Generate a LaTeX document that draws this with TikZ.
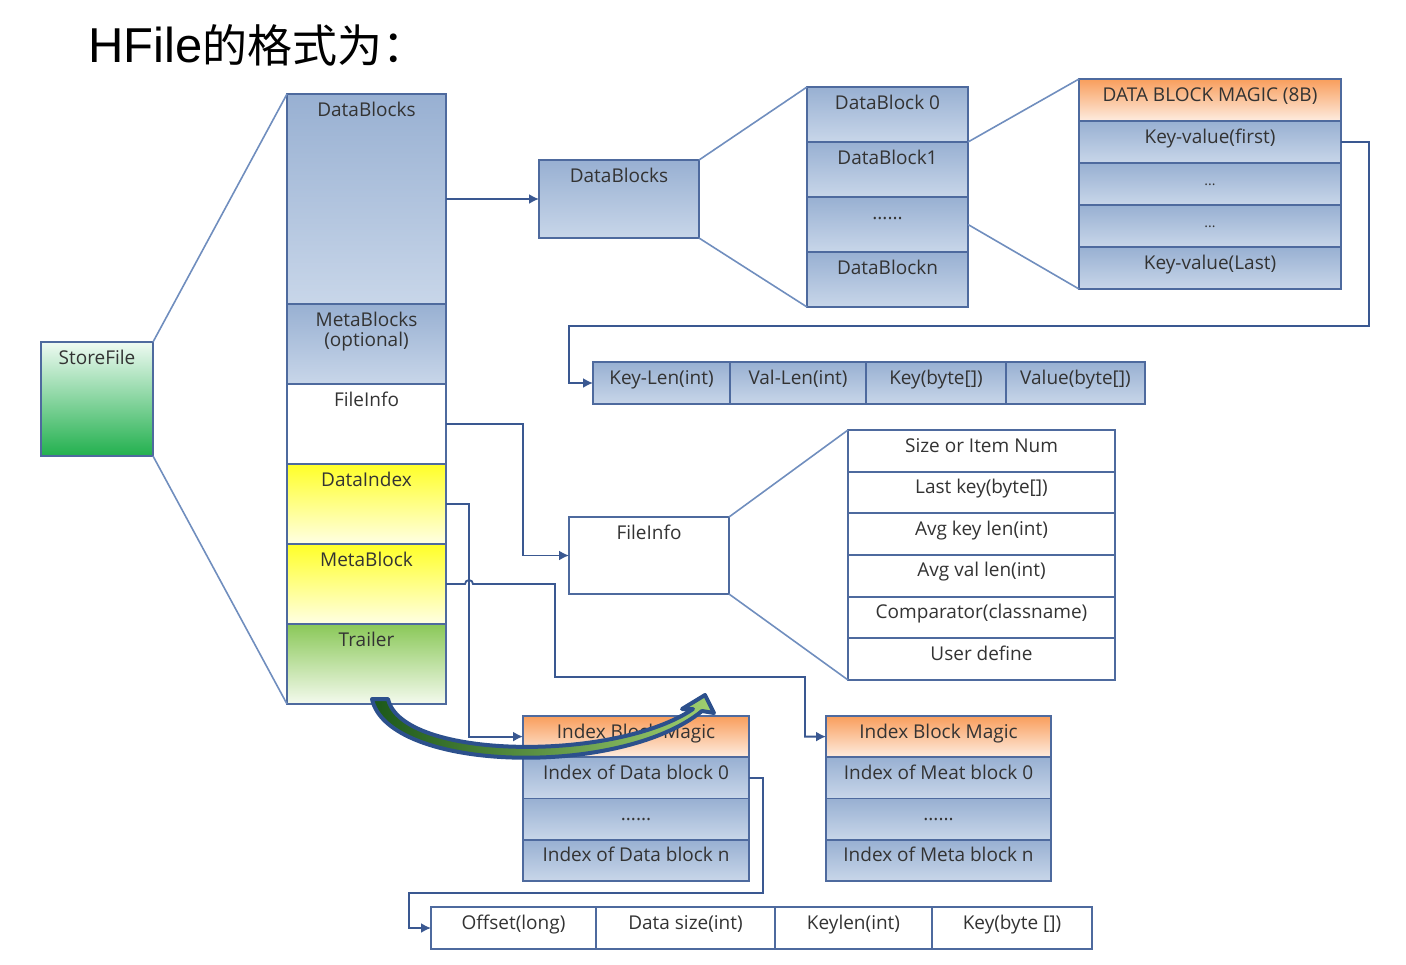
\documentclass[tikz,border=0pt]{standalone}
\usepackage{fontspec}
\setmainfont{Open Sans}
\newfontfamily\titlefont{Liberation Sans}
\newfontfamily\cjk{Noto Sans CJK SC}
\usetikzlibrary{arrows.meta,calc}

\definecolor{hfedge}{RGB}{78,106,158}
\definecolor{hfline}{RGB}{58,88,145}
\definecolor{hffan}{RGB}{112,142,190}
\definecolor{hfbluetop}{RGB}{152,176,210}
\definecolor{hfbluebot}{RGB}{200,214,233}
\definecolor{hforangetop}{RGB}{249,158,92}
\definecolor{hforangebot}{RGB}{253,236,224}
\definecolor{hfyeltop}{RGB}{255,255,40}
\definecolor{hfyelbot}{RGB}{255,255,228}
\definecolor{hfgreentop}{RGB}{138,200,88}
\definecolor{hfgreenbot}{RGB}{244,250,238}
\definecolor{sftop}{RGB}{238,250,242}
\definecolor{sfbot}{RGB}{34,176,78}
\definecolor{arrowedge}{RGB}{44,80,140}
\definecolor{arrowdark}{RGB}{28,88,26}
\definecolor{arrowlight}{RGB}{160,208,112}

\tikzset{
	cell/.style={draw=hfedge, line width=0.9pt, inner sep=0pt, outer sep=0pt, anchor=north west, text height=11pt, text=black!80, font=\fontsize{9.5}{11}\selectfont},
	sz/.style 2 args={minimum width=#1pt, text depth=#2pt},
	bluecell/.style={cell, top color=hfbluetop, bottom color=hfbluebot},
	orangecell/.style={cell, top color=hforangetop, bottom color=hforangebot},
	yellowcell/.style={cell, top color=hfyeltop, bottom color=hfyelbot},
	greencell/.style={cell, top color=hfgreentop, bottom color=hfgreenbot},
	whitecell/.style={cell, fill=white},
	conn/.style={draw=hfline, line width=0.9pt, -{Latex[length=5pt,width=5pt]}},
	fan/.style={draw=hffan, line width=0.8pt}
}

\begin{document}
\begin{tikzpicture}[x=0.5pt,y=-0.5pt]
	\useasboundingbox (0,0) rectangle (1406,964);
	\node[anchor=base west, inner sep=0pt] (title) at (88,62) {\titlefont\fontsize{24.5}{28}\selectfont HFile\cjk\fontsize{22.5}{28}\selectfont 的格式为：};

	\node[cell, top color=sftop, bottom color=sfbot, sz={56}{46}] (sf) at (41,342) {StoreFile};

	\node[bluecell, sz={79.5}{94}] (lDB) at (287,94) {DataBlocks};
	\node[bluecell, sz={79.5}{29}] (lMB) at (lDB.south west) {\begin{tabular}[t]{@{}c@{}}MetaBlocks\\[-1pt](optional)\end{tabular}};
	\node[whitecell, sz={79.5}{29}] (lFI) at (lMB.south west) {FileInfo};
	\node[yellowcell, sz={79.5}{29}] (lDI) at (lFI.south west) {DataIndex};
	\node[yellowcell, sz={79.5}{29}] (lMK) at (lDI.south west) {MetaBlock};
	\node[greencell, sz={79.5}{29}] (lTR) at (lMK.south west) {Trailer};

	\node[bluecell, sz={80}{28}] (db2) at (539,160) {DataBlocks};

	\node[bluecell, sz={80.5}{16.5}] (c0) at (807,87) {DataBlock 0};
	\node[bluecell, sz={80.5}{16.5}] (c1) at (c0.south west) {DataBlock1};
	\node[bluecell, sz={80.5}{16.5}] (c2) at (c1.south west) {......};
	\node[bluecell, sz={80.5}{16.5}] (cn) at (c2.south west) {DataBlockn};

	\node[orangecell, sz={131}{10}] (m0) at (1079,79) {DATA BLOCK MAGIC (8B)};
	\node[bluecell, sz={131}{10}] (m1) at (m0.south west) {Key-value(first)};
	\node[bluecell, sz={131}{10}] (m2) at (m1.south west) {\scriptsize ...};
	\node[bluecell, sz={131}{10}] (m3) at (m2.south west) {\scriptsize ...};
	\node[bluecell, sz={131}{10}] (m4) at (m3.south west) {Key-value(Last)};

	\node[bluecell, sz={68.5}{10}] (kl) at (593,362) {Key-Len(int)};
	\node[bluecell, sz={68}{10}] (vl) at (kl.north east) {Val-Len(int)};
	\node[bluecell, sz={70}{10}] (ky) at (vl.north east) {Key(byte[])};
	\node[bluecell, sz={69.5}{10}] (vb) at (ky.north east) {Value(byte[])};

	\node[whitecell, sz={80}{27.5}] (fi2) at (569,517) {FileInfo};

	\node[whitecell, sz={133.5}{9.83}] (f0) at (848,430) {Size or Item Num};
	\node[whitecell, sz={133.5}{9.83}] (f1) at (f0.south west) {Last key(byte[])};
	\node[whitecell, sz={133.5}{9.83}] (f2) at (f1.south west) {Avg key len(int)};
	\node[whitecell, sz={133.5}{9.83}] (f3) at (f2.south west) {Avg val len(int)};
	\node[whitecell, sz={133.5}{9.83}] (f4) at (f3.south west) {Comparator(classname)};
	\node[whitecell, sz={133.5}{9.83}] (f5) at (f4.south west) {User define};

	\node[orangecell, sz={113}{9.6}] (ib0) at (523,716) {Index Block Magic};
	\node[bluecell, sz={113}{9.6}] (ib1) at (ib0.south west) {Index of Data block 0};
	\node[bluecell, sz={113}{9.6}] (ib2) at (ib1.south west) {......};
	\node[bluecell, sz={113}{9.6}] (ib3) at (ib2.south west) {Index of Data block n};

	\node[orangecell, sz={112.5}{9.6}] (jb0) at (826,716) {Index Block Magic};
	\node[bluecell, sz={112.5}{9.6}] (jb1) at (jb0.south west) {Index of Meat block 0};
	\node[bluecell, sz={112.5}{9.6}] (jb2) at (jb1.south west) {......};
	\node[bluecell, sz={112.5}{9.6}] (jb3) at (jb2.south west) {Index of Meta block n};

	\node[whitecell, sz={82.5}{10}] (of) at (431,907) {Offset(long)};
	\node[whitecell, sz={89.5}{10}] (ds) at (of.north east) {Data size(int)};
	\node[whitecell, sz={78.5}{10}] (kn) at (ds.north east) {Keylen(int)};
	\node[whitecell, sz={80}{10}] (kb) at (kn.north east) {Key(byte [])};

	\draw[fan] (sf.north east) -- (lDB.north west);
	\draw[fan] (sf.south east) -- (lTR.south west);
	\draw[conn] (lDB.east) -- (db2.west);
	\draw[fan] (db2.north east) -- (c0.north west);
	\draw[fan] (db2.south east) -- (cn.south west);
	\draw[fan] (c1.north east) -- (m0.north west);
	\draw[fan] (c2.east) -- (m4.south west);
	\draw[fan] (fi2.north east) -- (f0.north west);
	\draw[fan] (fi2.south east) -- (f5.south west);

	\coordinate (kvturn) at (1369,326);
	\coordinate (kvdrop) at (569,326);
	\draw[conn] (m1.east) -| (kvturn) -- (kvdrop) |- (kl.west);
	\draw[conn] (lFI.east) -| ($(fi2.west)+(-46,0)$) -- (fi2.west);
	\draw[conn] (lDI.east) -- ++(23,0) |- (ib0.west);
	\coordinate (mkturn) at (555,677);
	\coordinate (mkdrop) at (805,677);
	\draw[conn] (lMK.east) -- ++(19,0) arc[start angle=180,end angle=360,radius=4] -- (mkturn |- lMK.east) -- (mkturn) -- (mkdrop) |- (jb0.west);
	\coordinate (ixturn) at (763,893);
	\coordinate (ixdrop) at (409,893);
	\draw[conn] (ib1.east) -| (ixturn) -- (ixdrop) |- (of.west);

	\path[draw=arrowedge, line width=2pt, line join=round, left color=arrowdark, right color=arrowlight] (372,699) .. controls (388,772) and (620,778) .. (702,711) -- (714,713) -- (705,695) -- (682,709) -- (693,709) .. controls (615,762) and (402,760) .. (388,699) -- cycle;
\end{tikzpicture}
\end{document}
